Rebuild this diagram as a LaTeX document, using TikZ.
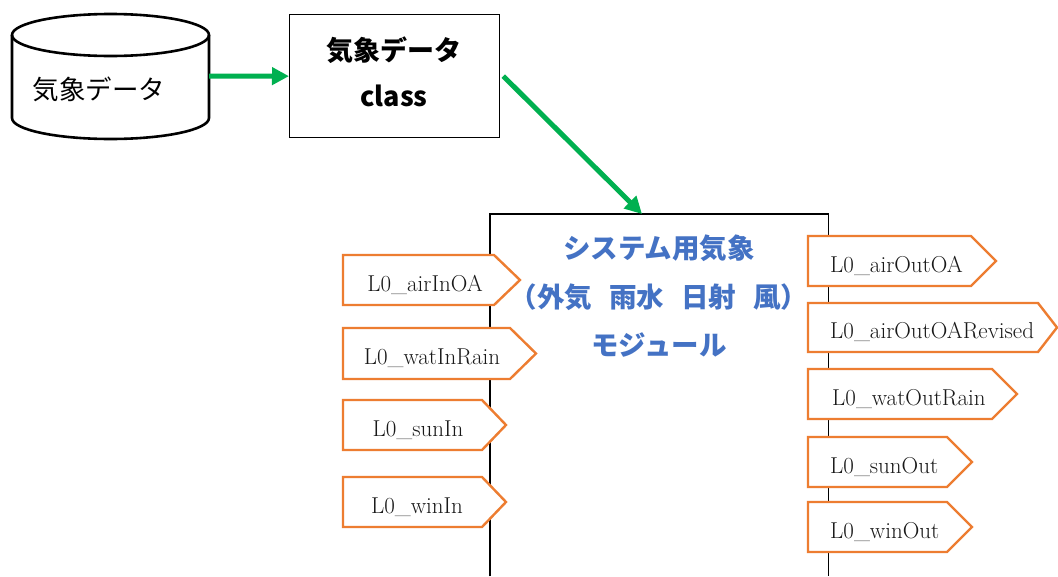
\documentclass[tikz,border=0pt]{standalone}
\usepackage{fontspec}
\newfontfamily\cjk{Noto Sans CJK JP}
\usetikzlibrary{arrows.meta}
\definecolor{grn}{HTML}{00B050}
\definecolor{org}{HTML}{ED7D31}
\definecolor{blu}{HTML}{4472C4}
\tikzset{
  pent/.style={draw=org, line width=2.4pt, fill=white, line join=miter},
  lbl/.style={inner sep=0pt, font=\fontsize{23}{25}\selectfont, text=black!90},
  garrow/.style={draw=grn, line width=5pt, -{Triangle[length=17pt,width=17pt]}},
  ttl/.style={inner sep=0pt, anchor=base, text=blu, font=\cjk\bfseries\fontsize{27.5}{30}\selectfont},
}
% name, left, tipstart, tip, top, bottom, textx, anchor, text
\newcommand\pent[9]{%
  \draw[pent] (#2,#5) -- (#3,#5) -- (#4,{(#5+#6)/2}) -- (#3,#6) -- (#2,#6) -- cycle;
  \node[lbl, anchor=#8] (#1) at (#7,{(#5+#6)/2+11}) {#9};
}
\begin{document}
\begin{tikzpicture}[x=1pt,y=-1pt]
\useasboundingbox[fill=white] (0,0) rectangle (1058,576);

% database cylinder
\draw[line width=2.6pt] (12,35) -- (12,118) arc[start angle=180, end angle=360, x radius=98.5pt, y radius=21pt] -- (209,35);
\draw[line width=2.6pt] (110.5,35) ellipse[x radius=98.5pt, y radius=21pt];
\node[inner sep=0pt, minimum width=197pt, minimum height=10pt] (db) at (110.5,76) {};
\node[inner sep=0pt, anchor=base, font=\cjk\fontsize{26.5}{28}\selectfont] (dbl) at (99,99) {気象データ};

% class box
\node[draw, line width=1.3pt, minimum width=210pt, minimum height=123pt, inner sep=0pt, anchor=north west] (cls) at (289,14) {};
\node[inner sep=0pt, anchor=base, font=\cjk\bfseries\fontsize{27}{30}\selectfont] (clsa) at (394,60) {気象データ};
\node[inner sep=0pt, anchor=base, font=\cjk\bfseries\fontsize{27}{30}\selectfont] (clsb) at (394,106) {class};

% module box
\node[minimum width=338pt, minimum height=362pt, inner sep=0pt, anchor=north west] (mod) at (490,214) {};
\draw[line width=1.3pt] (mod.south west) -- (mod.north west) -- (mod.north east) -- (mod.south east);
\node[ttl] (t1) at (659,258) {システム用気象};
\node[ttl] (t2) at (659,307) {（外気\hspace{17pt}雨水\hspace{17pt}日射\hspace{17pt}風）};
\node[ttl] (t3) at (659,355) {モジュール};

% arrows
\draw[garrow] (db.east) -- (cls.west);
\draw[garrow] ([xshift=3pt]cls.east) -- ([xshift=152pt]mod.north west);

% inputs
\pent{i1}{343}{494}{520}{255}{305}{425}{base}{L0\_airInOA}
\pent{i2}{343}{510}{536}{328}{379}{432}{base}{L0\_watInRain}
\pent{i3}{343}{482}{506}{400}{450}{418}{base}{L0\_sunIn}
\pent{i4}{343}{482}{506}{477}{527}{417}{base}{L0\_winIn}

% outputs
\pent{o1}{808}{971}{996}{236}{286}{830}{base west}{L0\_airOutOA}
\pent{o2}{808}{1038}{1057}{303}{352}{830}{base west}{L0\_airOutOARevised}
\pent{o3}{808}{992}{1017}{369}{419}{832}{base west}{L0\_watOutRain}
\pent{o4}{808}{947}{972}{437}{487}{830}{base west}{L0\_sunOut}
\pent{o5}{808}{947}{972}{502}{552}{830}{base west}{L0\_winOut}
\end{tikzpicture}
\end{document}
